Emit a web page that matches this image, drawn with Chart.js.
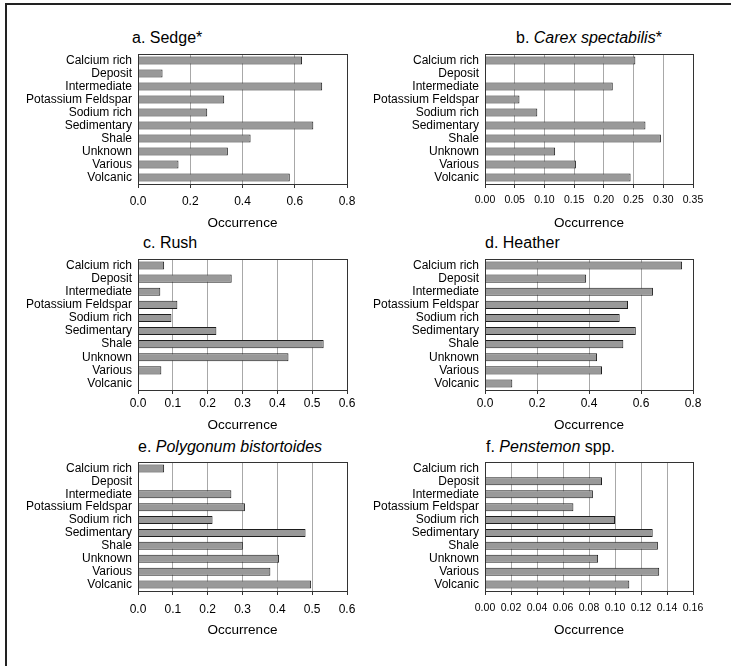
<!DOCTYPE html>
<html>
<head>
<meta charset="utf-8">
<script src="https://cdn.jsdelivr.net/npm/chart.js@4/dist/chart.umd.min.js"></script>
<style>
  html, body { margin: 0; padding: 0; background: #fff; }
  body { width: 731px; height: 666px; position: relative; overflow: hidden; font-family: "Liberation Sans", Arial, sans-serif; }
  .frameTop { position: absolute; left: 5px; top: 3px; width: 726px; height: 2px; background: #222; }
  .frameLeft { position: absolute; left: 5px; top: 3px; width: 2px; height: 663px; background: #222; }
  canvas { position: absolute; }
  .ttl { position: absolute; font-size: 16px; color: #000; white-space: nowrap; line-height: 18px; }
</style>
</head>
<body>
<div class="frameTop"></div>
<div class="frameLeft"></div>

<div class="ttl" style="left:132px; top:29px;">a. Sedge*</div>
<div class="ttl" style="left:516px; top:29px;">b. <i>Carex spectabilis</i>*</div>
<div class="ttl" style="left:143px; top:234px;">c. Rush</div>
<div class="ttl" style="left:485px; top:234px;">d. Heather</div>
<div class="ttl" style="left:138px; top:438px;">e. <i>Polygonum bistortoides</i></div>
<div class="ttl" style="left:486px; top:438px;">f. <i>Penstemon</i> spp.</div>

<canvas id="cA"></canvas>
<canvas id="cB"></canvas>
<canvas id="cC"></canvas>
<canvas id="cD"></canvas>
<canvas id="cE"></canvas>
<canvas id="cF"></canvas>

<script>
// ---- data ----
const categories = ["Calcium rich", "Deposit", "Intermediate", "Potassium Feldspar", "Sodium rich",
                    "Sedimentary", "Shale", "Unknown", "Various", "Volcanic"];
const sedge     = [0.628, 0.094, 0.705, 0.330, 0.265, 0.671, 0.431, 0.344, 0.155, 0.581];
const carex     = [0.253, 0.000, 0.215, 0.058, 0.088, 0.270, 0.296, 0.118, 0.153, 0.245];
const rush      = [0.075, 0.269, 0.064, 0.113, 0.096, 0.225, 0.533, 0.432, 0.067, 0.000];
const heather   = [0.758, 0.389, 0.646, 0.550, 0.518, 0.580, 0.532, 0.431, 0.450, 0.105];
const polygonum = [0.075, 0.000, 0.268, 0.307, 0.214, 0.481, 0.301, 0.405, 0.380, 0.497];
const penstemon = [0.000, 0.090, 0.083, 0.068, 0.100, 0.129, 0.133, 0.087, 0.134, 0.111];

// x-axis tick definitions (max, step, decimals)
const axisMax      = [0.8, 0.35, 0.6, 0.8, 0.6, 0.16];
const axisStep     = [0.2, 0.05, 0.1, 0.2, 0.1, 0.02];
const axisDecimals = [1, 2, 1, 1, 1, 2];
const axisTitle    = "Occurrence";

// ---- layout ----
const FONT = "'Liberation Sans', Arial, sans-serif";
const YW = 128, PADT = 16, PADR = 22, XH = 52;

const borderPlugin = {
  id: 'plotBorder',
  afterDatasetsDraw(chart) {
    const a = chart.chartArea, ctx = chart.ctx;
    ctx.save();
    ctx.strokeStyle = '#333';
    ctx.lineWidth = 1;
    ctx.strokeRect(Math.round(a.left) + 0.5, Math.round(a.top) + 0.5,
                   Math.round(a.right - a.left), Math.round(a.bottom - a.top));
    ctx.restore();
  }
};

function makePanel(id, values, idx, plotLeft, plotTop, plotRight, plotBottom, tickFont, tickPad, titlePad) {
  const cv = document.getElementById(id);
  const left = plotLeft - YW;
  const top = plotTop - PADT;
  const W = (plotRight - left) + PADR;
  const H = PADT + (plotBottom - plotTop) + XH;
  cv.width = W; cv.height = H;
  cv.style.left = left + 'px'; cv.style.top = top + 'px';
  cv.style.width = W + 'px'; cv.style.height = H + 'px';

  new Chart(cv, {
    type: 'bar',
    data: {
      labels: categories,
      datasets: [{
        data: values,
        backgroundColor: '#999999',
        borderColor: '#1e1e1e',
        borderWidth: 1,
        categoryPercentage: 1.0,
        barPercentage: 0.62
      }]
    },
    options: {
      indexAxis: 'y',
      responsive: false,
      animation: false,
      devicePixelRatio: 1,
      layout: { padding: { top: PADT, right: PADR, left: 0, bottom: 0 } },
      plugins: { legend: { display: false }, tooltip: { enabled: false }, title: { display: false } },
      scales: {
        x: {
          type: 'linear',
          min: 0, max: axisMax[idx],
          afterFit(s) { s.height = XH; },
          ticks: {
            stepSize: axisStep[idx],
            autoSkip: false,
            maxRotation: 0,
            padding: tickPad,
            color: '#000',
            font: { family: FONT, size: tickFont },
            callback: (v) => Number(v).toFixed(axisDecimals[idx])
          },
          grid: { color: '#a8a8a8', lineWidth: 1, tickLength: 4, tickColor: '#333', drawTicks: true },
          border: { display: true, color: '#555', width: 1 },
          title: { display: true, text: axisTitle, color: '#000',
                   font: { family: FONT, size: 13.5 }, padding: { top: 0, bottom: titlePad } }
        },
        y: {
          type: 'category',
          afterFit(s) { s.width = YW; },
          ticks: { color: '#000', padding: 6, font: { family: FONT, size: 12 }, autoSkip: false },
          grid: { display: false, drawTicks: false },
          border: { display: false }
        }
      }
    },
    plugins: [borderPlugin]
  });
}

makePanel('cA', sedge,     0, 138, 54,  347, 184, 12,   6, 5);
makePanel('cB', carex,     1, 485, 54,  693, 184, 10.5, 6, 5);
makePanel('cC', rush,      2, 138, 259, 347, 390, 12,   2, 9);
makePanel('cD', heather,   3, 485, 259, 693, 390, 12,   2, 9);
makePanel('cE', polygonum, 4, 138, 462, 347, 591, 12,   7, 5);
makePanel('cF', penstemon, 5, 485, 462, 693, 591, 10.5, 7, 5);
</script>
</body>
</html>
